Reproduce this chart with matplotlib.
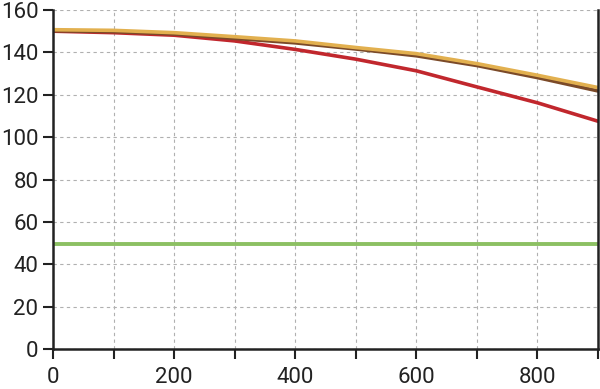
import matplotlib.pyplot as plt
import numpy as np

plt.rcParams['font.family'] = ['Roboto', 'DejaVu Sans']

x = np.array([0, 100, 200, 300, 400, 500, 600, 700, 800, 900])
red = np.array([150.0, 149.3, 148.1, 145.4, 141.4, 136.8, 131.3, 123.7, 116.2, 107.5])
brown = np.array([150.2, 149.8, 148.7, 146.6, 144.5, 141.6, 138.4, 133.8, 128.1, 121.8])
gold = np.array([150.7, 150.4, 149.3, 147.4, 145.4, 142.3, 139.4, 134.7, 129.2, 123.4])
green = np.array([49.5] * 10)

fig = plt.figure(figsize=(6, 3.89), dpi=100)
ax = fig.add_axes([53 / 600, 40 / 389, 545 / 600, 339 / 389])

ax.plot(x, green, color='#8cc063', lw=2.8)
ax.plot(x, red, color='#c1272d', lw=2.6)
ax.plot(x, brown, color='#7b4a28', lw=2.6)
ax.plot(x, gold, color='#e2b04f', lw=2.6)

ax.set_xlim(0, 900)
ax.set_ylim(0, 160)
ax.set_xticks(np.arange(0, 901, 100))
ax.set_xticklabels([str(v) if v % 200 == 0 else '' for v in range(0, 901, 100)])
ax.set_yticks(np.arange(0, 161, 20))
ax.grid(True, color='#b0b0b0', ls=(0, (3, 3)), lw=0.8)
ax.set_axisbelow(True)

ax.spines['top'].set_visible(False)
for s in ['left', 'bottom', 'right']:
    ax.spines[s].set_color('#222222')
    ax.spines[s].set_linewidth(1.8)
ax.tick_params(direction='out', length=7, width=1.5, color='#222222',
               labelsize=16, labelcolor='#222222')
ax.tick_params(axis='x', pad=6)

fig.savefig('out.png', dpi=100)
